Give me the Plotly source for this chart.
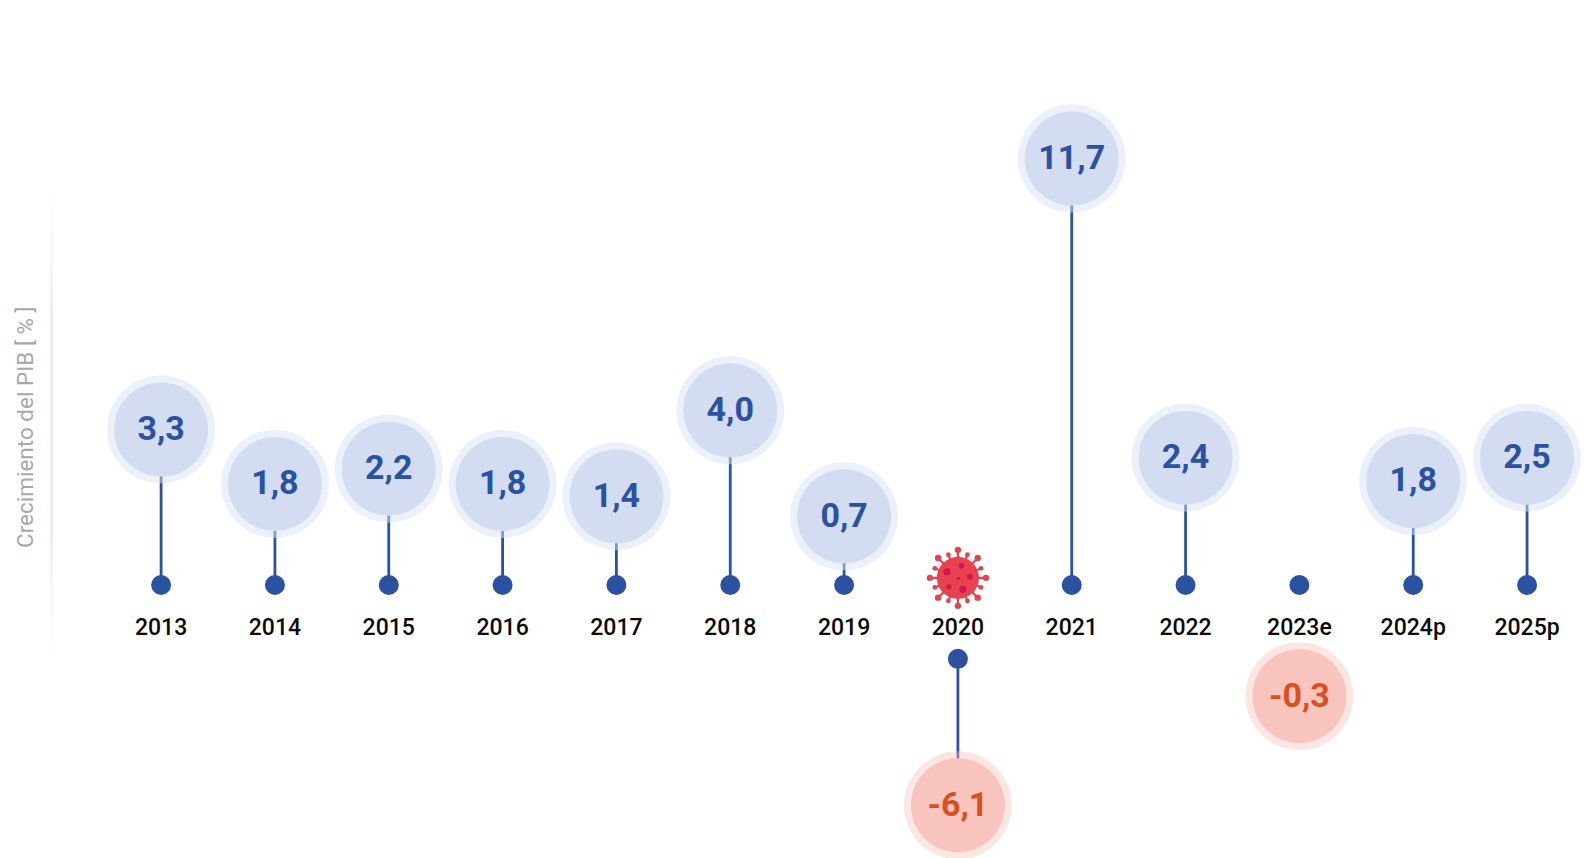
import math
import plotly.graph_objects as go

years = ["2013","2014","2015","2016","2017","2018","2019","2020","2021","2022","2023e","2024p","2025p"]
growth_labels = ["3,3","1,8","2,2","1,8","1,4","4,0","0,7","-6,1","11,7","2,4","-0,3","1,8","2,5"]
# height of each bubble as drawn in the picture
bubble_level = [4.80,3.12,3.59,3.12,2.74,5.39,2.12,-6.80,13.16,3.93,-3.43,3.21,3.93]
# where each stem starts (its dot)
dot_level = [0,0,0,0,0,0,0,-2.28,0,0,0,0,0]
has_stem = [True]*10 + [False] + [True]*2
year_label_level = -1.36
label_shift = -0.06

BLUE = "#2a52a0"; BUB = "#d3dcf1"; RING = "rgba(217,225,243,0.5)"
RED_TXT = "#d9501e"; RED_BUB = "#f8c4bd"; RED_RING = "rgba(248,196,189,0.42)"
FONT = "Roboto"

W, H = 1584, 858
X0, DX = 161.1, 113.83
Y0, DY = 585.0, 32.4

fig = go.Figure()
xs = list(range(len(years)))
neg = [l.startswith("-") for l in growth_labels]

# stems
for x, b, d, s in zip(xs, bubble_level, dot_level, has_stem):
    if s:
        fig.add_trace(go.Scatter(x=[x, x], y=[d, b], mode="lines",
                                 line=dict(color=BLUE, width=2.8), hoverinfo="skip"))
# dots
fig.add_trace(go.Scatter(x=xs, y=dot_level, mode="markers",
                         marker=dict(size=20, color=BLUE, line=dict(width=0))))
# rings and bubbles
fig.add_trace(go.Scatter(x=xs, y=bubble_level, mode="markers",
                         marker=dict(size=108, line=dict(width=0),
                                     color=[RED_RING if n else RING for n in neg])))
fig.add_trace(go.Scatter(x=xs, y=bubble_level, mode="markers",
                         marker=dict(size=94, line=dict(width=0),
                                     color=[RED_BUB if n else BUB for n in neg])))
fig.add_trace(go.Scatter(x=xs, y=[b + label_shift for b in bubble_level], mode="text",
                         text=growth_labels, textposition="middle center",
                         textfont=dict(family=FONT, size=34, weight=700,
                                       color=[RED_TXT if n else BLUE for n in neg])))
# year labels
fig.add_trace(go.Scatter(x=xs, y=[year_label_level]*len(xs), mode="text", text=years,
                         textposition="middle center",
                         textfont=dict(family=FONT, size=23, color="#0a0a0a", weight=500)))

shapes = []
# faded rule on the left
for i in range(24):
    t = (i + 0.5) / 24
    a = min(1, min(t, 1 - t) * 3.2) * 0.16
    shapes.append(dict(type="line", xref="paper", yref="paper",
                       x0=51.5/W, x1=51.5/W, y0=1-(190+i*19.5)/H, y1=1-(190+(i+1)*19.5)/H,
                       line=dict(color=f"rgba(120,120,120,{a:.3f})", width=2.5)))

# virus icon, anchored at the 2020 category
vx, vy = 7, 0.22
vcol = "#e8424f"; vdot = "#d5174f"
spikes = ""
balls = []
for k in range(16):
    ang = k * math.pi / 8
    long = k % 2 == 0
    L = 28 if long else 25
    r = 3.2 if long else 2.4
    c, s = math.cos(ang), math.sin(ang)
    spikes += f"M{18*c:.1f},{18*s:.1f}L{L*c:.1f},{L*s:.1f}"
    balls.append((L*c, L*s, r))
shapes.append(dict(type="path", xref="x", yref="y", xsizemode="pixel", ysizemode="pixel",
                   xanchor=vx, yanchor=vy, path=spikes, line=dict(color=vcol, width=2.2)))
def circ(px, py, r, col):
    return dict(type="circle", xref="x", yref="y", xsizemode="pixel", ysizemode="pixel",
                xanchor=vx, yanchor=vy, x0=px-r, x1=px+r, y0=py-r, y1=py+r,
                fillcolor=col, line=dict(width=0))
shapes.append(circ(0, 0, 21, vcol))
for b in balls:
    shapes.append(circ(*b, vcol))
for px, py, r in [(-11, 6, 3.6), (3.5, 12, 2.8), (12, 1, 3), (-9, -9, 2.7), (5, -11.5, 3.6), (0.5, -0.5, 1.8)]:
    shapes.append(circ(px, py, r, vdot))

fig.update_layout(
    width=W, height=H, margin=dict(l=0, r=0, t=0, b=0), showlegend=False,
    paper_bgcolor="white", plot_bgcolor="white", shapes=shapes,
    xaxis=dict(range=[-X0/DX, (W-X0)/DX], visible=False),
    yaxis=dict(range=[(Y0-H)/DY, Y0/DY], visible=False),
    annotations=[dict(xref="paper", yref="paper", x=25/W, y=1-427/H,
                      xanchor="center", yanchor="middle",
                      text="Crecimiento del PIB [ % ]", textangle=-90, showarrow=False,
                      font=dict(family=FONT, size=22.5, color="#a8a8a8"))],
)
fig.write_html("out.html", config=dict(displayModeBar=False),
               post_script="document.body.style.margin='0';")
